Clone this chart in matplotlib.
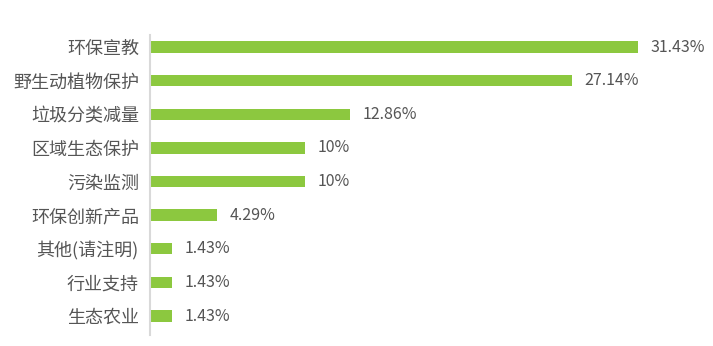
import matplotlib
matplotlib.use('Agg')
import matplotlib.pyplot as plt

plt.rcParams['font.family'] = ['Noto Sans CJK SC', 'DejaVu Sans']

# data
categories = ['环保宣教', '野生动植物保护', '垃圾分类减量', '区域生态保护', '污染监测',
              '环保创新产品', '其他(请注明)', '行业支持', '生态农业']
values = [31.43, 27.14, 12.86, 10, 10, 4.29, 1.43, 1.43, 1.43]
value_labels = ['31.43%', '27.14%', '12.86%', '10%', '10%', '4.29%', '1.43%', '1.43%', '1.43%']

bar_color = '#8cc83f'
text_color = '#555555'

fig = plt.figure(figsize=(7.13, 3.46), dpi=100)
ax = fig.add_axes([150 / 713, 11 / 346, 550 / 713, 300 / 346])

ypos = list(range(len(categories)))
ax.barh(ypos, values, height=0.34, color=bar_color)

for y, v, lab in zip(ypos, values, value_labels):
    ax.annotate(lab, xy=(v, y), xytext=(9, 0), textcoords='offset points',
                ha='left', va='center', fontsize=11.5, color=text_color)

ax.set_yticks(ypos)
ax.set_yticklabels(categories, fontsize=13, color=text_color)
ax.tick_params(axis='y', length=0, pad=8)
ax.set_xticks([])
ax.set_xlim(0, 35.4)
ax.set_ylim(8.565, -0.357)

for side in ['top', 'right', 'bottom']:
    ax.spines[side].set_visible(False)
ax.spines['left'].set_color('#d9d9d9')
ax.spines['left'].set_linewidth(1.5)

fig.savefig('out.png', dpi=100)
